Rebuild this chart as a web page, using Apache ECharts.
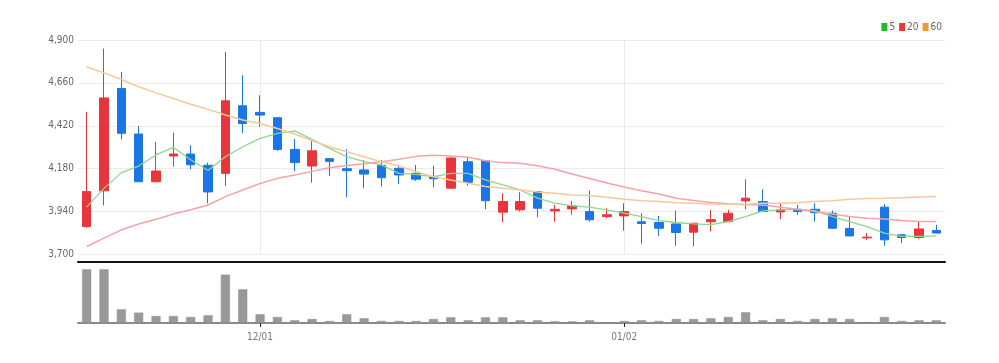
<!DOCTYPE html>
<html><head><meta charset="utf-8">
<script src="https://cdn.jsdelivr.net/npm/echarts@6/dist/echarts.min.js"></script>
<style>html,body{margin:0;padding:0;background:#fff}#c{width:999px;height:363px}</style>
</head><body><div id="c"></div>
<script>
const dates = ['11/17','11/18','11/19','11/20','11/21','11/24','11/25','11/26','11/27','11/28',
  '12/01','12/02','12/03','12/04','12/05','12/08','12/09','12/10','12/11','12/12',
  '12/15','12/16','12/17','12/18','12/19','12/22','12/23','12/24','12/26','12/29','12/30',
  '01/02','01/05','01/06','01/07','01/08','01/09','01/12','01/13','01/14','01/15','01/16',
  '01/19','01/20','01/21','01/22','01/23','01/26','01/27','01/28'];
const opens  = [3856,4056,4629,4374,4107,4251,4262,4199,4154,4532,4495,4465,4288,4195,4236,4180,4173,4199,4182,4154,4135,4071,4219,4225,3937,3950,4052,3944,3955,3940,3912,3916,3883,3879,3871,3825,3883,3884,4000,3996,3938,3953,3953,3931,3845,3793,3965,3810,3795,3834];
const closes = [4052,4576,4378,4107,4167,4262,4202,4050,4560,4433,4480,4288,4214,4280,4221,4169,4150,4130,4145,4121,4124,4240,4104,4001,3996,3996,3959,3953,3972,3894,3922,3940,3873,3847,3823,3875,3895,3931,4015,3940,3950,3940,3934,3847,3804,3797,3782,3795,3843,3820];
const lows   = [3850,3974,4344,4105,4105,4191,4177,3987,4083,4378,4414,4280,4167,4102,4139,4020,4071,4080,4095,4112,4076,4068,4085,3953,3881,3940,3909,3884,3922,3884,3903,3834,3760,3804,3749,3745,3828,3882,3953,3938,3898,3922,3884,3842,3802,3782,3749,3764,3788,3818];
const highs  = [4498,4852,4721,4418,4331,4381,4311,4214,4833,4703,4591,4468,4346,4335,4240,4288,4229,4229,4196,4201,4197,4245,4247,4228,4043,4048,4055,3977,4000,4057,3959,3987,3931,3916,3946,3878,3950,3950,4121,4065,3987,3977,3987,3946,3912,3820,3981,3812,3884,3866];
const ma5  = [3965,4070,4158,4195,4257,4299,4230,4170,4247,4303,4350,4378,4392,4344,4294,4247,4219,4201,4154,4148,4135,4154,4154,4117,4089,4061,4015,3987,3972,3965,3950,3931,3912,3890,3879,3871,3867,3884,3912,3944,3950,3953,3946,3912,3884,3856,3820,3801,3801,3804];
const ma20 = [3745,3792,3838,3871,3897,3926,3950,3977,4024,4061,4097,4126,4145,4165,4185,4198,4208,4219,4233,4249,4255,4251,4244,4225,4214,4210,4196,4177,4150,4125,4100,4078,4057,4038,4015,4002,3991,3984,3979,3977,3965,3953,3940,3927,3912,3903,3898,3890,3884,3884];
const ma60 = [4749,4716,4679,4638,4604,4573,4541,4512,4480,4452,4433,4405,4374,4336,4303,4275,4247,4219,4195,4163,4135,4117,4098,4080,4071,4061,4050,4043,4033,4030,4020,4009,4001,3996,3990,3987,3983,3981,3981,3987,3987,3990,3996,4001,4009,4013,4015,4018,4022,4024];
const volumes = [161000,161000,41000,31000,21000,21000,18000,23000,145000,101000,26000,18000,8000,12000,6000,26000,14000,6000,6000,6000,12000,17000,8000,17000,17000,8000,8000,5000,5000,8000,2000,6000,8000,6000,12000,12000,14000,18000,32000,8000,12000,6000,12000,14000,12000,3000,18000,6000,8000,8000];
const yTicks = {min:3700, max:4900, interval:240};
const shownLabels = ['12/01','01/02'];

const candleData = dates.map((d,i)=>[opens[i],closes[i],lows[i],highs[i]]);
const showFn = (idx,val)=>shownLabels.indexOf(val)>=0;
const FONT = "'Liberation Sans Narrow','DejaVu Sans Condensed','Liberation Sans',sans-serif";
const chart = echarts.init(document.getElementById('c'));
chart.setOption({
  animation:false,
  backgroundColor:'#fff',
  legend:{
    right:52, top:17, itemWidth:6, itemHeight:8, itemGap:4, icon:'rect',
    textStyle:{fontSize:10, color:'#666', fontFamily:FONT, padding:[0,0,0,-3]},
    data:[{name:'5',itemStyle:{color:'#22b922'}},{name:'20',itemStyle:{color:'#ec3535'}},{name:'60',itemStyle:{color:'#f39a2e'}}]
  },
  grid:[
    {left:78,right:54,top:40,height:214.5},
    {left:78,right:54,top:262,height:61}
  ],
  xAxis:[
    {type:'category',gridIndex:0,data:dates,boundaryGap:true,offset:7,
     axisLine:{lineStyle:{color:'#111',width:2}},axisTick:{show:false},axisLabel:{show:false},
     splitLine:{show:true,interval:showFn,alignWithLabel:true,lineStyle:{color:'#eaeaea'}}},
    {type:'category',gridIndex:1,data:dates,boundaryGap:true,
     axisLine:{lineStyle:{color:'#8a8a8a',width:2}},
     axisTick:{show:true,interval:showFn,alignWithLabel:true,length:4,lineStyle:{color:'#222'}},
     axisLabel:{interval:showFn,fontSize:10,color:'#777',fontFamily:FONT,margin:9},
     splitLine:{show:false}}
  ],
  yAxis:[
    {type:'value',gridIndex:0,min:yTicks.min,max:yTicks.max,interval:yTicks.interval,
     axisLine:{show:false},axisTick:{show:false},
     axisLabel:{fontSize:10,color:'#666',fontFamily:FONT,margin:4,
       formatter:v=>String(v).replace(/\B(?=(\d{3})+(?!\d))/g,',')},
     splitLine:{lineStyle:{color:'#ececec'}}},
    {type:'value',gridIndex:1,min:0,max:183000,show:false,splitLine:{show:false}}
  ],
  series:[
    {type:'candlestick',name:'price',xAxisIndex:0,yAxisIndex:0,data:candleData,barWidth:'52%',
     itemStyle:{color:'#e8353b',color0:'#1a76e6',borderColor:'#e8353b',borderColor0:'#1a76e6',borderWidth:1}},
    {type:'line',name:'5',data:ma5,xAxisIndex:0,yAxisIndex:0,symbol:'none',smooth:false,
     lineStyle:{color:'#8fd68f',width:1.3},itemStyle:{color:'#22b922'},z:3},
    {type:'line',name:'20',data:ma20,xAxisIndex:0,yAxisIndex:0,symbol:'none',
     lineStyle:{color:'#f5a3a6',width:1.5},itemStyle:{color:'#ec3535'},z:3},
    {type:'line',name:'60',data:ma60,xAxisIndex:0,yAxisIndex:0,symbol:'none',
     lineStyle:{color:'#f9c79a',width:1.5},itemStyle:{color:'#f39a2e'},z:3},
    {type:'bar',name:'vol',xAxisIndex:1,yAxisIndex:1,data:volumes,barWidth:'52%',
     itemStyle:{color:'#999999',borderColor:'#8a8a8a',borderWidth:0.5}}
  ]
});
</script></body></html>
